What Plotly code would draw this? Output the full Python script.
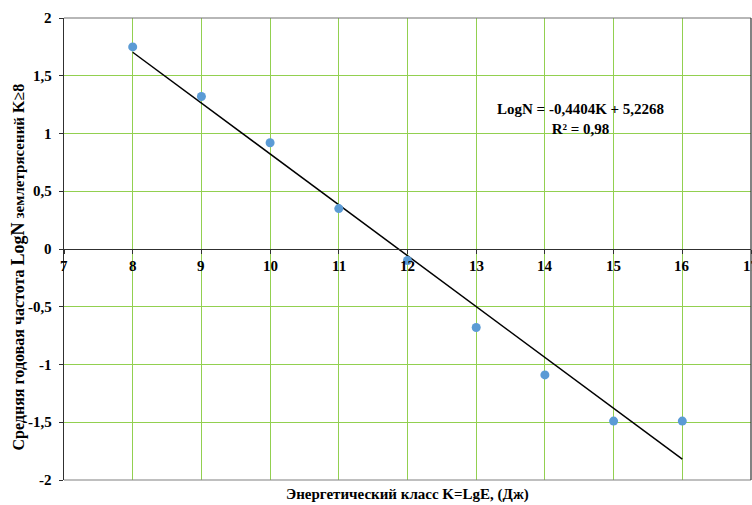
import plotly.graph_objects as go

# Energy class K and mean annual frequency LogN
energy_class = [8, 9, 10, 11, 12, 13, 14, 15, 16]
log_n = [1.75, 1.32, 0.92, 0.35, -0.10, -0.68, -1.09, -1.49, -1.49]

# Linear trend LogN = a*K + b
slope = -0.4404
intercept = 5.2268
r_squared = 0.98
trend_k = [8, 16]
trend_y = [slope * k + intercept for k in trend_k]

x_ticks = list(range(7, 18))
y_ticks = [-2, -1.5, -1, -0.5, 0, 0.5, 1, 1.5, 2]


def fmt(v):
    return str(int(v)) if v == int(v) else str(v).replace(".", ",")


font_family = "Times New Roman"
axis_color = "#303030"
grid_color = "#92D050"
label_font = dict(family=font_family, size=15, color="black")

fig = go.Figure()

fig.add_trace(go.Scatter(
    x=trend_k, y=trend_y, mode="lines",
    line=dict(color="black", width=1.5),
    hoverinfo="skip", showlegend=False,
))

fig.add_trace(go.Scatter(
    x=energy_class, y=log_n, mode="markers",
    marker=dict(color="#5B9BD5", size=9),
    showlegend=False,
))

# Tick labels placed as text so they follow the serif bold style
tick_labels = []
for t in x_ticks:
    tick_labels.append(dict(
        text=f"<b>{fmt(t)}</b>", x=t, y=0, xref="x", yref="y",
        xanchor="center", yanchor="top", yshift=-7, showarrow=False,
        font=label_font,
    ))
for t in y_ticks:
    tick_labels.append(dict(
        text=f"<b>{fmt(t)}</b>", x=0, y=t, xref="paper", yref="y",
        xanchor="right", yanchor="middle", xshift=-10, showarrow=False,
        font=label_font,
    ))

y_title = (
    "<b>Средняя годовая частота </b>"
    "<span style='font-size:18px'><b>LogN</b></span> "
    "<span style='font-size:15px'><b>землетрясений</b></span> "
    "<b>K≥8</b>"
)

fig.update_layout(
    width=752, height=505,
    margin=dict(l=64, r=1, t=18, b=25),
    paper_bgcolor="white", plot_bgcolor="white",
    font=dict(family=font_family, size=15, color="black"),
    xaxis=dict(
        range=[7, 17], tickvals=x_ticks, showticklabels=False,
        showgrid=True, gridcolor=grid_color, gridwidth=1,
        zeroline=False,
        anchor="free", position=0.5,
        showline=True, linecolor=axis_color, linewidth=1.2,
        ticks="outside", ticklen=4, tickcolor=axis_color,
    ),
    yaxis=dict(
        range=[-2, 2], tickvals=y_ticks, showticklabels=False,
        showgrid=True, gridcolor=grid_color, gridwidth=1,
        zeroline=False,
        showline=True, linecolor=axis_color, linewidth=1.2,
        ticks="outside", ticklen=4, tickcolor=axis_color,
    ),
    shapes=[
        dict(type="line", xref="paper", yref="paper", x0=0, x1=1, y0=1, y1=1,
             line=dict(color="#707070", width=1.2)),
        dict(type="line", xref="paper", yref="paper", x0=0, x1=1, y0=0, y1=0,
             line=dict(color="#808080", width=1.2)),
        dict(type="line", xref="paper", yref="paper", x0=1, x1=1, y0=0, y1=1,
             line=dict(color=axis_color, width=1.2)),
    ],
    annotations=tick_labels + [
        dict(
            text=f"<b>LogN = {fmt(slope)}K + {fmt(intercept)}<br>R² = {fmt(r_squared)}</b>",
            x=14.52, y=1.125, xref="x", yref="y", showarrow=False,
            align="center", font=label_font,
        ),
        dict(
            text="<b>Энергетический класс K=LgE, (Дж)</b>",
            x=0.5, y=0, xref="paper", yref="paper", yanchor="middle",
            yshift=-14, showarrow=False,
            font=label_font,
        ),
        dict(
            text=y_title,
            x=0, y=0.46, xref="paper", yref="paper", xanchor="center",
            xshift=-46, textangle=-90, showarrow=False,
            font=dict(family=font_family, size=16, color="black"),
        ),
    ],
)

fig.write_html("out.html")
